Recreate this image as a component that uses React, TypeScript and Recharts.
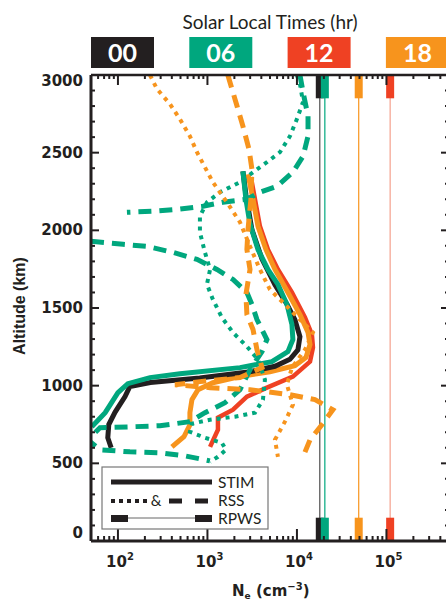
import React from "react";
import { LineChart, Line, XAxis, YAxis } from "recharts";

const INK = "#231f20";
const GREEN = "#00a77e";
const RED = "#ef4123";
const ORANGE = "#f7941d";

// local times shown in the header boxes
const sltLabels = ["00", "06", "12", "18"];
const sltColors = [INK, GREEN, RED, ORANGE];
const rpwsThin = ["#4d4d4d", GREEN, "#f4a08e", ORANGE];

// RPWS densities (cm^-3), one per local time
const rpwsNe = [18000, 20500, 110000, 49000];
const rpwsBarKm = 150;

// [Ne (cm^-3), altitude (km)]
const stim00: [number, number][] = [
  [2490, 2380], [2690, 2230], [3140, 2005], [4070, 1815], [5680, 1650], [7730, 1525],
  [9490, 1425], [10800, 1315], [10250, 1230], [8350, 1170], [5680, 1125], [2990, 1090],
  [820, 1050], [230, 1020], [136, 995], [120, 930], [93, 830], [79, 750], [77, 665], [84, 600],
];
const stim06: [number, number][] = [
  [2490, 2380], [2690, 2200], [2990, 2040], [3670, 1877], [4740, 1748], [6130, 1652],
  [7730, 1523], [8790, 1394], [9010, 1297], [7930, 1219], [5250, 1155], [2310, 1116],
  [493, 1077], [228, 1052], [129, 1013], [100, 955], [72, 826], [51, 735],
];
const stim12: [number, number][] = [
  [3060, 2342], [3860, 2026], [4740, 1877], [6130, 1748], [8790, 1600], [12300, 1439],
  [14700, 1329], [15100, 1245], [14000, 1155], [9010, 1058], [4620, 987], [2760, 929],
  [1930, 845], [1310, 794], [1310, 716], [1070, 606],
];
const stim18: [number, number][] = [
  [2840, 2361], [3230, 2200], [3670, 2026], [4500, 1877], [5680, 1748], [7930, 1600],
  [10800, 1458], [13300, 1342], [14000, 1265], [12600, 1181], [9490, 1129], [4990, 1090],
  [2310, 1058], [1150, 1019], [784, 974], [671, 910], [637, 826], [637, 748], [546, 671],
  [401, 606],
];

const rssDotted18: [number, number][] = [
  [228, 3000], [273, 2910], [381, 2813], [493, 2716], [637, 2606], [764, 2503], [938, 2406],
  [1150, 2310], [1650, 2181], [2310, 2052], [2990, 1897], [3860, 1748], [4990, 1619],
  [7340, 1523], [10800, 1426], [15100, 1342], [12300, 1232], [8790, 1116], [7730, 1006],
  [9010, 877], [7340, 768], [5680, 652], [6130, 542],
];
const rssDashed18: [number, number][] = [
  [1690, 3000], [2140, 2800], [2490, 2671], [2910, 2523], [3140, 2394], [3060, 2200],
  [2840, 2006], [2760, 1877], [2990, 1748], [2690, 1587], [2760, 1458], [3230, 1361],
  [3575, 1232], [4070, 1116], [2310, 1052], [824, 1026], [434, 1006], [1070, 987],
  [2990, 974], [8350, 942], [15900, 910], [25200, 845], [19000, 748], [14000, 652],
  [11700, 542],
];
const rssDotted06: [number, number][] = [
  [9990, 3000], [10800, 2942], [11700, 2826], [9990, 2716], [8350, 2606], [6460, 2503],
  [4620, 2439], [3230, 2374], [2310, 2310], [1380, 2245], [987, 2181], [824, 2090],
  [824, 1987], [938, 1858], [1070, 1748], [987, 1652], [1150, 1555], [1450, 1439],
  [1930, 1342], [2760, 1252], [3670, 1168], [4390, 1039], [4170, 910], [3400, 826],
  [2030, 800], [1070, 781], [671, 755], [637, 703], [938, 665], [1450, 632], [1610, 587],
  [1310, 542], [1070, 510],
];
const rssDashed06a: [number, number][] = [
  [10800, 3000], [11700, 2890], [13300, 2735], [13300, 2606], [11700, 2477], [9010, 2374],
  [5980, 2284], [3860, 2245], [2760, 2200], [1490, 2181], [891, 2155], [456, 2135],
  [246, 2123], [126, 2116],
];
const rssDashed06b: [number, number][] = [
  [50, 1929], [114, 1910], [211, 1897], [412, 1858], [764, 1813], [1277, 1748], [1930, 1684],
  [2760, 1600], [3140, 1523], [3575, 1426], [4620, 1297], [4070, 1219], [2990, 1103],
  [2310, 974], [1570, 890], [938, 826], [637, 768], [295, 742], [136, 735], [63, 729],
  [46, 652], [63, 587], [136, 574], [295, 568], [561, 548], [1066, 516],
];

const xTicks = [
  50, 60, 70, 80, 90,
  100, 200, 300, 400, 500, 600, 700, 800, 900,
  1000, 2000, 3000, 4000, 5000, 6000, 7000, 8000, 9000,
  10000, 20000, 30000, 40000, 50000, 60000, 70000, 80000, 90000,
  100000, 200000, 300000, 400000, 500000,
];
const xLabels = [100, 1000, 10000, 100000];
const yTicks = [
  0, 100, 200, 300, 400, 500, 600, 700, 800, 900, 1000, 1100, 1200, 1300, 1400, 1500,
  1600, 1700, 1800, 1900, 2000, 2100, 2200, 2300, 2400, 2500, 2600, 2700, 2800, 2900, 3000,
];
const yLabels = [0, 500, 1000, 1500, 2000, 2500, 3000];

const pts = (a: [number, number][]) => a.map(([ne, alt]) => ({ ne, alt }));

const TICK_FONT = "DejaVu Sans";

function BottomTick({ x, y, payload }: any) {
  const v = payload.value;
  const major = xLabels.includes(v);
  return (
    <g>
      <line x1={x} x2={x} y1={y} y2={y - (major ? 12 : 5)} stroke={INK} strokeWidth={2} />
      {major && (
        <text x={x + 2} y={y + 26} textAnchor="middle" fontFamily={TICK_FONT} fontWeight="bold" fontSize={15} fill={INK}>
          10<tspan dy={-7} fontSize={10}>{Math.round(Math.log10(v))}</tspan>
        </text>
      )}
    </g>
  );
}

function TopTick({ x, y, payload }: any) {
  const major = xLabels.includes(payload.value);
  return <line x1={x} x2={x} y1={y} y2={y + (major ? 10 : 4)} stroke={INK} strokeWidth={2} />;
}

function LeftTick({ x, y, payload }: any) {
  const v = payload.value;
  const major = yLabels.includes(v);
  const dy = v === 3000 ? 11 : v === 0 ? -3 : 5;
  return (
    <g>
      <line x1={x} x2={x + (major ? 8 : 4)} y1={y} y2={y} stroke={INK} strokeWidth={2} />
      {major && (
        <text x={x - 8} y={y + dy} textAnchor="end" fontFamily={TICK_FONT} fontWeight="bold" fontSize={15} fill={INK}>
          {v}
        </text>
      )}
    </g>
  );
}

function RightTick({ x, y, payload }: any) {
  const major = yLabels.includes(payload.value);
  return <line x1={x} x2={x - (major ? 8 : 4)} y1={y} y2={y} stroke={INK} strokeWidth={2} />;
}

const axisLine = { stroke: INK, strokeWidth: 3 };

export default function App() {
  return (
    <div style={{ position: "absolute", left: 0, top: 0, width: 446, height: 600, overflow: "hidden", background: "#fff" }}>
      <LineChart width={460} height={600} margin={{ top: 74, right: 10, bottom: 58, left: 90 }}>
        <XAxis
          dataKey="ne"
          type="number"
          scale="log"
          domain={[50, 500000]}
          allowDataOverflow
          ticks={xTicks}
          interval={0}
          height={1}
          tickSize={0}
          tickMargin={0}
          tickLine={false}
          axisLine={axisLine}
          tick={<BottomTick />}
        />
        <XAxis
          xAxisId="top"
          orientation="top"
          dataKey="ne"
          type="number"
          scale="log"
          domain={[50, 500000]}
          allowDataOverflow
          ticks={xTicks}
          interval={0}
          height={1}
          tickSize={0}
          tickMargin={0}
          tickLine={false}
          axisLine={{ stroke: INK, strokeWidth: 2.5 }}
          tick={<TopTick />}
        />
        <YAxis
          type="number"
          domain={[0, 3000]}
          allowDataOverflow
          ticks={yTicks}
          interval={0}
          width={1}
          tickSize={0}
          tickMargin={0}
          tickLine={false}
          axisLine={axisLine}
          tick={<LeftTick />}
        />
        <YAxis
          yAxisId="right"
          orientation="right"
          type="number"
          domain={[0, 3000]}
          allowDataOverflow
          ticks={yTicks}
          interval={0}
          width={1}
          tickSize={0}
          tickMargin={0}
          tickLine={false}
          axisLine={axisLine}
          tick={<RightTick />}
        />

        {rpwsNe.map((ne, i) => (
          <Line
            key={`thin${i}`}
            data={pts([[ne, 0], [ne, 3000]])}
            dataKey="alt"
            stroke={rpwsThin[i]}
            strokeWidth={1.2}
            dot={false}
            isAnimationActive={false}
          />
        ))}
        {rpwsNe.map((ne, i) => (
          <Line
            key={`lo${i}`}
            data={pts([[ne, 0], [ne, rpwsBarKm]])}
            dataKey="alt"
            stroke={sltColors[i]}
            strokeWidth={8}
            dot={false}
            isAnimationActive={false}
          />
        ))}
        {rpwsNe.map((ne, i) => (
          <Line
            key={`hi${i}`}
            data={pts([[ne, 3000 - rpwsBarKm], [ne, 3000]])}
            dataKey="alt"
            stroke={sltColors[i]}
            strokeWidth={8}
            dot={false}
            isAnimationActive={false}
          />
        ))}

        <Line data={pts(stim12)} dataKey="alt" stroke={RED} strokeWidth={4.5} dot={false} isAnimationActive={false} />
        <Line data={pts(stim18)} dataKey="alt" stroke={ORANGE} strokeWidth={5} dot={false} isAnimationActive={false} />
        <Line data={pts(stim00)} dataKey="alt" stroke={INK} strokeWidth={5} dot={false} isAnimationActive={false} />
        <Line data={pts(stim06)} dataKey="alt" stroke={GREEN} strokeWidth={5} dot={false} isAnimationActive={false} />

        <Line data={pts(rssDotted06)} dataKey="alt" stroke={GREEN} strokeWidth={4} strokeDasharray="4 5" dot={false} isAnimationActive={false} />
        <Line data={pts(rssDashed06a)} dataKey="alt" stroke={GREEN} strokeWidth={5} strokeDasharray="13 8" dot={false} isAnimationActive={false} />
        <Line data={pts(rssDashed06b)} dataKey="alt" stroke={GREEN} strokeWidth={5} strokeDasharray="13 8" dot={false} isAnimationActive={false} />
        <Line data={pts(rssDotted18)} dataKey="alt" stroke={ORANGE} strokeWidth={4} strokeDasharray="4 5" dot={false} isAnimationActive={false} />
        <Line data={pts(rssDashed18)} dataKey="alt" stroke={ORANGE} strokeWidth={5} strokeDasharray="13 8" dot={false} isAnimationActive={false} />
      </LineChart>

      <svg width={446} height={600} style={{ position: "absolute", left: 0, top: 0, pointerEvents: "none" }}>
        <text x={270} y={29} textAnchor="middle" fontFamily="Lato" fontSize={19} fill={INK}>
          Solar Local Times (hr)
        </text>
        {sltLabels.map((lab, i) => (
          <g key={lab}>
            <rect x={91 + i * 98.3} y={37} width={63} height={31} fill={sltColors[i]} />
            <text x={122.5 + i * 98.3} y={62} textAnchor="middle" fontFamily="Lato" fontWeight="bold" fontSize={25} fill="#fff">
              {lab}
            </text>
          </g>
        ))}

        <text
          transform="translate(25,306) rotate(-90)"
          textAnchor="middle"
          fontFamily="Liberation Sans"
          fontWeight="bold"
          fontSize={16}
          fill={INK}
        >
          Altitude (km)
        </text>
        <text x={232} y={596} fontFamily={TICK_FONT} fontWeight="bold" fontSize={15} fill={INK}>
          N<tspan dy={3} fontSize={9}>e</tspan>
          <tspan dy={-3}> (cm</tspan>
          <tspan dy={-6} fontSize={10}>−3</tspan>
          <tspan dy={6}>)</tspan>
        </text>

        <rect x={102} y={467} width={166} height={62} fill="#fff" stroke="#777" strokeWidth={1.2} />
        <line x1={111} x2={212} y1={482} y2={482} stroke={INK} strokeWidth={5} />
        <line x1={111} x2={147} y1={501} y2={501} stroke={INK} strokeWidth={4} strokeDasharray="4 4" />
        <text x={156} y={506} textAnchor="middle" fontFamily="Lato" fontSize={15} fill={INK}>&amp;</text>
        <line x1={169} x2={208} y1={501} y2={501} stroke={INK} strokeWidth={5} strokeDasharray="13 13" />
        <line x1={111} x2={212} y1={518} y2={518} stroke="#666" strokeWidth={1} />
        <rect x={111} y={515} width={17} height={7} fill={INK} />
        <rect x={195} y={515} width={17} height={7} fill={INK} />
        <text x={218} y={488} fontFamily="Lato" fontSize={15.5} fill={INK}>STIM</text>
        <text x={218} y={506} fontFamily="Lato" fontSize={15.5} fill={INK}>RSS</text>
        <text x={218} y={524} fontFamily="Lato" fontSize={15.5} fill={INK}>RPWS</text>
      </svg>
    </div>
  );
}
